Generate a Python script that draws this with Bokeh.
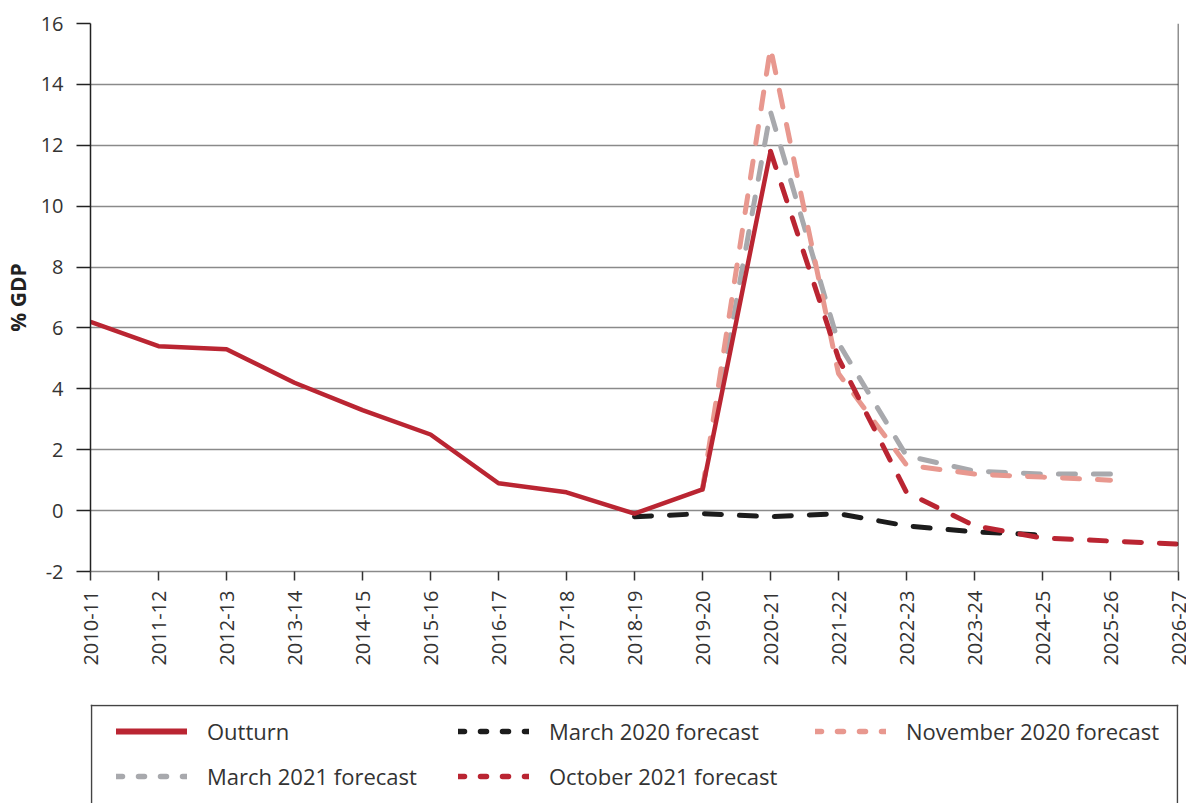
import math
from bokeh.plotting import figure
from bokeh.layouts import column
from bokeh.models import Range1d, FixedTicker, Legend, LegendItem, Span, ColumnDataSource
from bokeh.embed import file_html
from bokeh.resources import INLINE

years = ["2010-11", "2011-12", "2012-13", "2013-14", "2014-15", "2015-16", "2016-17",
         "2017-18", "2018-19", "2019-20", "2020-21", "2021-22", "2022-23", "2023-24",
         "2024-25", "2025-26", "2026-27"]

outturn = [6.2, 5.4, 5.3, 4.2, 3.3, 2.5, 0.9, 0.6, -0.1, 0.7, 11.8,
           None, None, None, None, None, None]
march_2020 = [None, None, None, None, None, None, None, None,
              -0.2, -0.1, -0.2, -0.1, -0.5, -0.7, -0.8, None, None]
november_2020 = [None, None, None, None, None, None, None, None, None,
                 0.7, 15.2, 4.5, 1.5, 1.2, 1.1, 1.0, None]
march_2021 = [None, None, None, None, None, None, None, None, None,
              0.7, 13.1, 5.5, 1.8, 1.3, 1.2, 1.2, None]
october_2021 = [None, None, None, None, None, None, None, None, None, None,
                11.8, 5.0, 0.6, -0.5, -0.9, -1.0, -1.1]

y_ticks = [-2, 0, 2, 4, 6, 8, 10, 12, 14, 16]

FONT = "Open Sans"
TXT = "#333333"


def series(vals):
    xs = [i for i, v in enumerate(vals) if v is not None]
    ys = [v for v in vals if v is not None]
    return ColumnDataSource(dict(x=xs, y=ys))


p = figure(width=1186, height=700, output_backend="svg", toolbar_location=None,
           x_range=Range1d(0, len(years) - 1), y_range=Range1d(-2, 16),
           min_border_left=90, min_border_top=23, min_border_bottom=129,
           min_border_right=8)
p.outline_line_color = None
p.background_fill_color = "white"

# axes
p.xaxis.ticker = FixedTicker(ticks=list(range(len(years))))
p.xaxis.major_label_overrides = {i: y for i, y in enumerate(years)}
p.xaxis.major_label_orientation = math.pi / 2
p.xaxis.major_label_standoff = 10
p.xaxis.major_tick_out = 9
p.xaxis.major_tick_in = 0
p.xaxis.minor_tick_line_color = None
p.xaxis.axis_line_color = "#8a8a8a"
p.xaxis.axis_line_width = 1.5
p.xaxis.major_tick_line_color = "#333333"
p.xaxis.major_tick_line_width = 1.5

p.yaxis.ticker = FixedTicker(ticks=y_ticks)
p.yaxis.major_label_overrides = {t: str(t) for t in y_ticks}
p.yaxis.major_tick_out = 14
p.yaxis.major_tick_in = 0
p.yaxis.minor_tick_line_color = None
p.yaxis.axis_line_color = "#222222"
p.yaxis.axis_line_width = 1.5
p.yaxis.major_tick_line_color = "#222222"
p.yaxis.major_tick_line_width = 1.5
p.yaxis.major_label_standoff = 13
p.yaxis.axis_label = "% GDP"
p.yaxis.axis_label_text_font = FONT
p.yaxis.axis_label_text_font_style = "bold"
p.yaxis.axis_label_text_font_size = "21px"
p.yaxis.axis_label_text_color = "#222222"
p.yaxis.axis_label_standoff = 6

for ax in (p.xaxis, p.yaxis):
    ax.major_label_text_font = FONT
    ax.major_label_text_font_size = "20px"
    ax.major_label_text_color = TXT

p.xgrid.grid_line_color = None
p.ygrid.grid_line_color = "#8a8a8a"
p.ygrid.grid_line_width = 1.5

p.add_layout(Span(location=len(years) - 1, dimension="height",
                  line_color="#222222", line_width=1.5))

DASH = "17 18"
C_OUT = "#BA2532"
C_BLACK = "#1c1c1c"
C_PINK = "#E8988F"
C_GREY = "#A8A9AD"

p.line("x", "y", source=series(march_2020), line_color=C_BLACK, line_width=5,
       line_dash=DASH, line_cap="round")
p.line("x", "y", source=series(march_2021), line_color=C_GREY, line_width=5,
       line_dash=DASH, line_cap="round")
p.line("x", "y", source=series(november_2020), line_color=C_PINK, line_width=5,
       line_dash=DASH, line_cap="round")
p.line("x", "y", source=series(october_2021), line_color=C_OUT, line_width=5,
       line_dash=DASH, line_cap="round")
p.line("x", "y", source=series(outturn), line_color=C_OUT, line_width=4.5,
       line_join="round")

# ---- legend panel (separate figure below the chart; its frame is aligned with the chart's) ----
LEG_H = 103
FRAME_L, FRAME_R = 90, 1178
q = figure(width=1186, height=LEG_H, output_backend="svg", toolbar_location=None,
           x_range=Range1d(FRAME_L, FRAME_R), y_range=Range1d(LEG_H - 4, 0),
           x_axis_type=None, y_axis_type=None,
           min_border_left=FRAME_L, min_border_right=1186 - FRAME_R,
           min_border_top=4, min_border_bottom=0)
q.outline_line_color = None
q.xgrid.grid_line_color = None
q.ygrid.grid_line_color = None

# legend box edges (left, right, top)
for loc, dim in ((91, "height"), (1177, "height"), (1, "width")):
    q.add_layout(Span(location=loc, dimension=dim, line_color="#444444", line_width=1.5))

LDASH = "6 16"
nan = float("nan")


def proxy(**kw):
    return q.line("x", "y", source=ColumnDataSource(dict(x=[nan], y=[nan])), **kw)


lg_out = proxy(line_color=C_OUT, line_width=6, line_cap="round")
lg_m20 = proxy(line_color=C_BLACK, line_width=5.5, line_dash=LDASH, line_cap="round")
lg_n20 = proxy(line_color=C_PINK, line_width=5.5, line_dash=LDASH, line_cap="round")
lg_m21 = proxy(line_color=C_GREY, line_width=5.5, line_dash=LDASH, line_cap="round")
lg_o21 = proxy(line_color=C_OUT, line_width=5.5, line_dash=LDASH, line_cap="round")


def make_legend(items, x, vy):
    lg = Legend(items=[LegendItem(label=l, renderers=[r]) for l, r in items],
                location=(x - FRAME_L, vy), orientation="vertical")
    lg.margin = 0
    lg.padding = 0
    lg.glyph_width = 71
    lg.glyph_height = 30
    lg.label_height = 30
    lg.label_standoff = 20
    lg.spacing = 15
    lg.label_text_font = FONT
    lg.label_text_font_size = "22px"
    lg.label_text_color = TXT
    lg.border_line_color = None
    lg.background_fill_alpha = 0
    q.add_layout(lg)


make_legend([("Outturn", lg_out), ("March 2021 forecast", lg_m21)], 116, 12)
make_legend([("March 2020 forecast", lg_m20), ("October 2021 forecast", lg_o21)], 458, 12)
make_legend([("November 2020 forecast", lg_n20)], 815, 57)

layout = column(p, q, spacing=0)
open("out.html", "w").write(file_html(layout, INLINE))
